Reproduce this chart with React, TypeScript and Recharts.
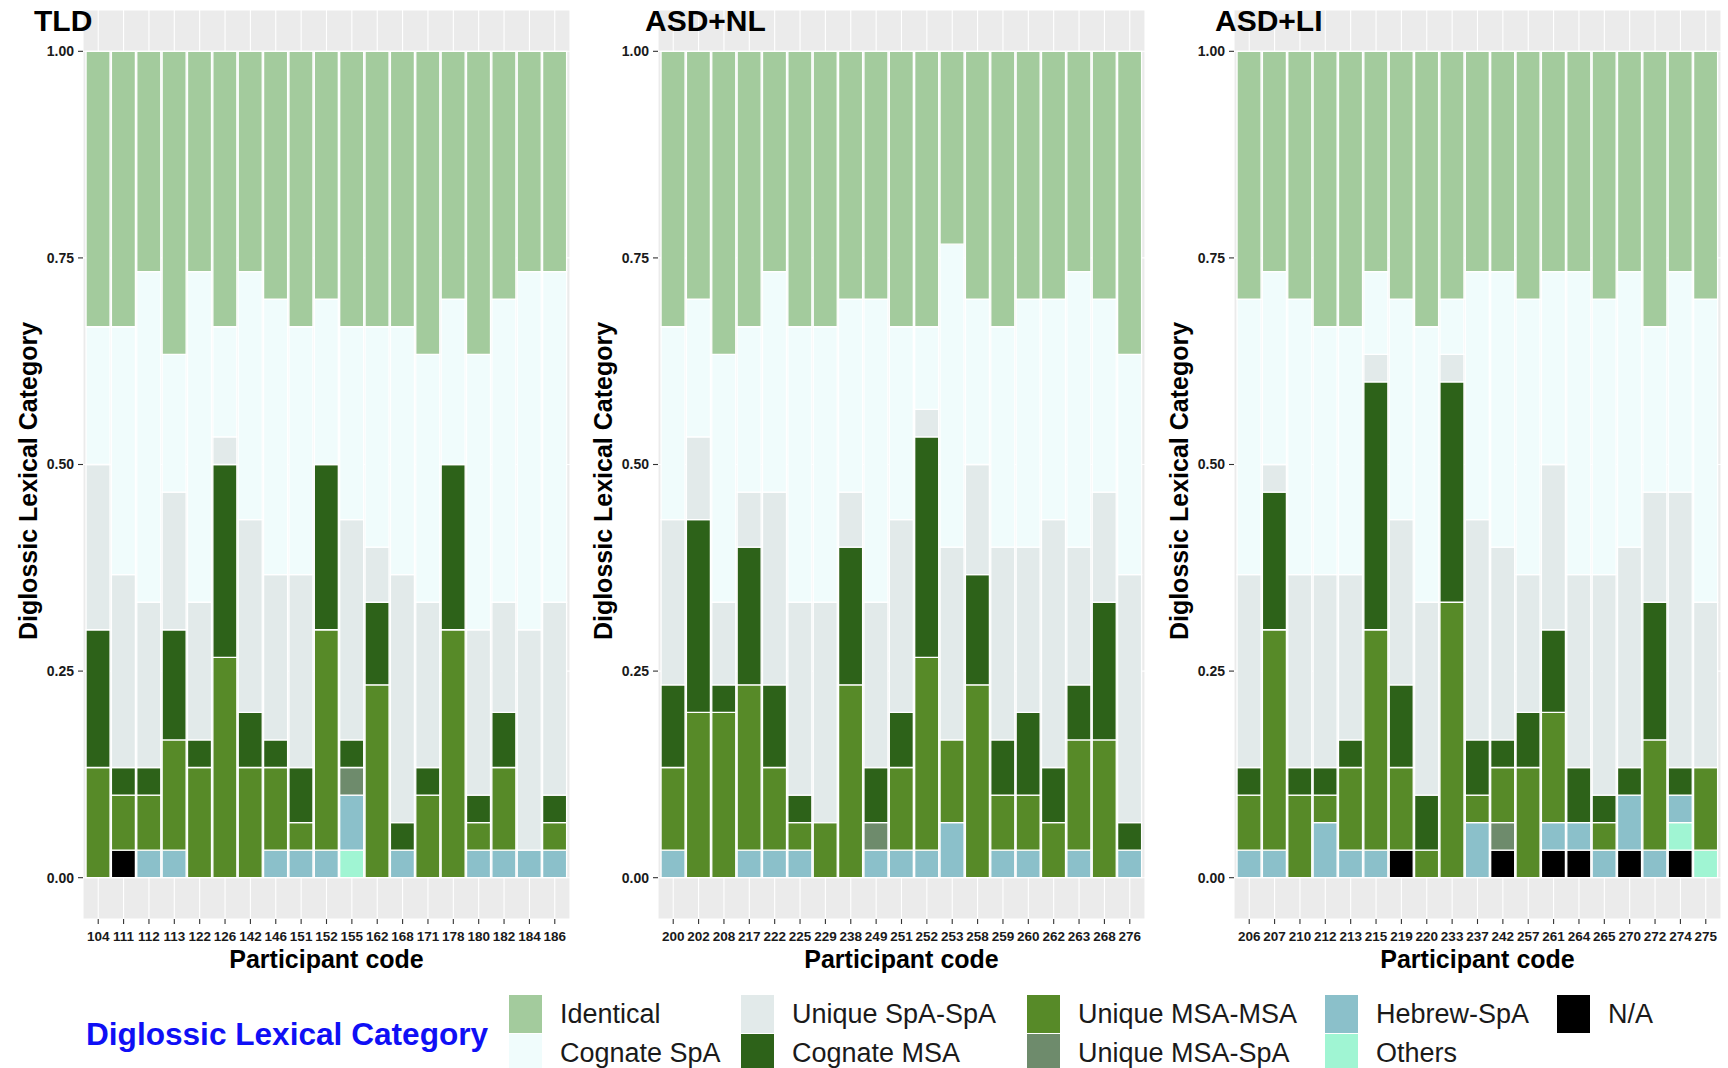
import { BarChart, Bar, XAxis, YAxis, CartesianGrid } from "recharts";

// every participant answered 30 items, values below are item counts
const N_ITEMS = 30;

const TLD_CODES = ["104", "111", "112", "113", "122", "126", "142", "146", "151", "152", "155", "162", "168", "171", "178", "180", "182", "184", "186"];
const TLD = {
  identical:    [10, 10, 8, 11, 8, 10, 8, 9, 10, 9, 10, 10, 10, 11, 9, 11, 9, 8, 8],
  cognateSpa:   [5, 9, 12, 5, 12, 4, 9, 10, 9, 6, 7, 8, 9, 9, 6, 10, 11, 13, 12],
  uniqueSpaSpa: [6, 7, 6, 5, 5, 1, 7, 6, 7, 0, 8, 2, 9, 6, 0, 6, 4, 8, 7],
  cognateMsa:   [5, 1, 1, 4, 1, 7, 2, 1, 2, 6, 1, 3, 1, 1, 6, 1, 2, 0, 1],
  uniqueMsaMsa: [4, 2, 2, 4, 4, 8, 4, 3, 1, 8, 0, 7, 0, 3, 9, 1, 3, 0, 1],
  uniqueMsaSpa: [0, 0, 0, 0, 0, 0, 0, 0, 0, 0, 1, 0, 0, 0, 0, 0, 0, 0, 0],
  hebrewSpa:    [0, 0, 1, 1, 0, 0, 0, 1, 1, 1, 2, 0, 1, 0, 0, 1, 1, 1, 1],
  others:       [0, 0, 0, 0, 0, 0, 0, 0, 0, 0, 1, 0, 0, 0, 0, 0, 0, 0, 0],
  na:           [0, 1, 0, 0, 0, 0, 0, 0, 0, 0, 0, 0, 0, 0, 0, 0, 0, 0, 0],
};

const NL_CODES = ["200", "202", "208", "217", "222", "225", "229", "238", "249", "251", "252", "253", "258", "259", "260", "262", "263", "268", "276"];
const ASD_NL = {
  identical:    [10, 9, 11, 10, 8, 10, 10, 9, 9, 10, 10, 7, 9, 10, 9, 9, 8, 9, 11],
  cognateSpa:   [7, 5, 9, 6, 8, 10, 10, 7, 11, 7, 3, 11, 6, 8, 9, 8, 10, 7, 8],
  uniqueSpaSpa: [6, 3, 3, 2, 7, 7, 8, 2, 6, 7, 1, 7, 4, 7, 6, 9, 5, 4, 9],
  cognateMsa:   [3, 7, 1, 5, 3, 1, 0, 5, 2, 2, 8, 0, 4, 2, 3, 2, 2, 5, 1],
  uniqueMsaMsa: [3, 6, 6, 6, 3, 1, 2, 7, 0, 3, 7, 3, 7, 2, 2, 2, 4, 5, 0],
  uniqueMsaSpa: [0, 0, 0, 0, 0, 0, 0, 0, 1, 0, 0, 0, 0, 0, 0, 0, 0, 0, 0],
  hebrewSpa:    [1, 0, 0, 1, 1, 1, 0, 0, 1, 1, 1, 2, 0, 1, 1, 0, 1, 0, 1],
  others:       [0, 0, 0, 0, 0, 0, 0, 0, 0, 0, 0, 0, 0, 0, 0, 0, 0, 0, 0],
  na:           [0, 0, 0, 0, 0, 0, 0, 0, 0, 0, 0, 0, 0, 0, 0, 0, 0, 0, 0],
};

const LI_CODES = ["206", "207", "210", "212", "213", "215", "219", "220", "233", "237", "242", "257", "261", "264", "265", "270", "272", "274", "275"];
const ASD_LI = {
  identical:    [9, 8, 9, 10, 10, 8, 9, 10, 9, 8, 8, 9, 8, 8, 9, 8, 10, 8, 9],
  cognateSpa:   [10, 7, 10, 9, 9, 3, 8, 10, 2, 9, 10, 10, 7, 11, 10, 10, 6, 8, 11],
  uniqueSpaSpa: [7, 1, 7, 7, 6, 1, 6, 7, 1, 8, 7, 5, 6, 7, 8, 8, 4, 10, 6],
  cognateMsa:   [1, 5, 1, 1, 1, 9, 3, 2, 8, 2, 1, 2, 3, 2, 1, 1, 5, 1, 0],
  uniqueMsaMsa: [2, 8, 3, 1, 3, 8, 3, 1, 10, 1, 2, 4, 4, 0, 1, 0, 4, 0, 3],
  uniqueMsaSpa: [0, 0, 0, 0, 0, 0, 0, 0, 0, 0, 1, 0, 0, 0, 0, 0, 0, 0, 0],
  hebrewSpa:    [1, 1, 0, 2, 1, 1, 0, 0, 0, 2, 0, 0, 1, 1, 1, 2, 1, 1, 0],
  others:       [0, 0, 0, 0, 0, 0, 0, 0, 0, 0, 0, 0, 0, 0, 0, 0, 0, 1, 1],
  na:           [0, 0, 0, 0, 0, 0, 1, 0, 0, 0, 1, 0, 1, 1, 0, 1, 0, 1, 0],
};

const Y_TICKS = [0, 0.25, 0.5, 0.75, 1];

// stacking order, bottom first
const SERIES = [
  { key: "na", name: "N/A", color: "#000000" },
  { key: "others", name: "Others", color: "#A0F5D3" },
  { key: "hebrewSpa", name: "Hebrew-SpA", color: "#8BC0CA" },
  { key: "uniqueMsaSpa", name: "Unique MSA-SpA", color: "#6E8B6C" },
  { key: "uniqueMsaMsa", name: "Unique MSA-MSA", color: "#578A28" },
  { key: "cognateMsa", name: "Cognate MSA", color: "#2D6219" },
  { key: "uniqueSpaSpa", name: "Unique SpA-SpA", color: "#E2EAEA" },
  { key: "cognateSpa", name: "Cognate SpA", color: "#F0FCFC" },
  { key: "identical", name: "Identical", color: "#A3CB9D" },
];

const FONT = '"Liberation Sans", Arial, Helvetica, sans-serif';
const PANEL_W = 487;
const PANEL_H = 909;
const PANEL_TOP = 10;
const Y_AXIS_W = 60;
const X_AXIS_H = 40;
const X_PAD = (0.1 * PANEL_W) / 19.2;

const seriesColor = (key: string) => SERIES.find((s) => s.key === key)!.color;
const seriesName = (key: string) => SERIES.find((s) => s.key === key)!.name;

function buildRows(codes: string[], group: Record<string, number[]>) {
  return codes.map((code, i) => {
    const row: Record<string, any> = { code };
    SERIES.forEach((s) => {
      row[s.key] = group[s.key][i] / N_ITEMS;
    });
    return row;
  });
}

function Panel({ title, codes, group, left, titleX }: { title: string; codes: string[]; group: Record<string, number[]>; left: number; titleX: number }) {
  const data = buildRows(codes, group);
  return (
    <>
      <div style={{ position: "absolute", left: left - Y_AXIS_W, top: 0 }}>
        <BarChart
          width={Y_AXIS_W + PANEL_W}
          height={PANEL_TOP + PANEL_H + X_AXIS_H}
          data={data}
          margin={{ top: PANEL_TOP, right: 0, bottom: 0, left: 0 }}
          barCategoryGap="2%"
        >
          <CartesianGrid fill="#EBEBEB" stroke="#FFFFFF" strokeWidth={1.1} />
          <XAxis
            dataKey="code"
            interval={0}
            padding={{ left: X_PAD, right: X_PAD }}
            axisLine={false}
            tickLine={{ stroke: "#333333", strokeWidth: 1.1 }}
            tickSize={5}
            tickMargin={7}
            height={X_AXIS_H}
            tick={{ fill: "#1A1A1A", fontSize: 13.5, fontWeight: 700, fontFamily: FONT }}
          />
          <YAxis
            type="number"
            domain={[-0.05, 1.05]}
            ticks={Y_TICKS}
            tickFormatter={(v: number) => v.toFixed(2)}
            width={Y_AXIS_W}
            axisLine={false}
            tickLine={{ stroke: "#333333", strokeWidth: 1.1 }}
            tickSize={5}
            tickMargin={4}
            tick={{ fill: "#1A1A1A", fontSize: 14, fontWeight: 700, fontFamily: FONT }}
          />
          {SERIES.map((s) => (
            <Bar
              key={s.key}
              dataKey={s.key}
              name={s.name}
              stackId="share"
              fill={s.color}
              stroke="#FFFFFF"
              strokeWidth={1.3}
              isAnimationActive={false}
            />
          ))}
        </BarChart>
      </div>
      <div style={{ position: "absolute", left: titleX, top: 6, fontSize: 30, fontWeight: 700, lineHeight: 1, color: "#000" }}>
        {title}
      </div>
      <div
        style={{
          position: "absolute",
          left: left - 55 - 200,
          top: 481 - 15,
          width: 400,
          height: 30,
          lineHeight: "30px",
          textAlign: "center",
          fontSize: 25,
          fontWeight: 700,
          transform: "rotate(-90deg)",
          color: "#000",
        }}
      >
        Diglossic Lexical Category
      </div>
      <div
        style={{
          position: "absolute",
          left: left,
          top: 959 - 15,
          width: PANEL_W,
          height: 30,
          lineHeight: "30px",
          textAlign: "center",
          fontSize: 25,
          fontWeight: 700,
          color: "#000",
        }}
      >
        Participant code
      </div>
    </>
  );
}

const LEGEND_COLUMNS = [
  { x: 509, keys: ["identical", "cognateSpa"] },
  { x: 741, keys: ["uniqueSpaSpa", "cognateMsa"] },
  { x: 1027, keys: ["uniqueMsaMsa", "uniqueMsaSpa"] },
  { x: 1325, keys: ["hebrewSpa", "others"] },
  { x: 1557, keys: ["na"] },
];
const LEGEND_ROWS = [995, 1034];

function Legend() {
  return (
    <>
      <div
        style={{
          position: "absolute",
          left: 86,
          top: 1034 - 20,
          height: 40,
          lineHeight: "40px",
          fontSize: 31.6,
          fontWeight: 700,
          color: "#0F0FF5",
          whiteSpace: "nowrap",
        }}
      >
        Diglossic Lexical Category
      </div>
      {LEGEND_COLUMNS.map((col) =>
        col.keys.map((k, r) => (
          <div key={k}>
            <div
              style={{
                position: "absolute",
                left: col.x,
                top: LEGEND_ROWS[r],
                width: 33,
                height: 38,
                background: seriesColor(k),
              }}
            />
            <div
              style={{
                position: "absolute",
                left: col.x + 51,
                top: LEGEND_ROWS[r],
                height: 38,
                lineHeight: "38px",
                fontSize: 27,
                color: "#1A1A1A",
                whiteSpace: "nowrap",
              }}
            >
              {seriesName(k)}
            </div>
          </div>
        ))
      )}
    </>
  );
}

export default function App() {
  return (
    <div
      style={{
        position: "absolute",
        left: 0,
        top: 0,
        width: 1728,
        height: 1068,
        overflow: "hidden",
        background: "#FFFFFF",
        fontFamily: FONT,
      }}
    >
      <Panel title="TLD" codes={TLD_CODES} group={TLD} left={83} titleX={34} />
      <Panel title="ASD+NL" codes={NL_CODES} group={ASD_NL} left={658} titleX={645} />
      <Panel title="ASD+LI" codes={LI_CODES} group={ASD_LI} left={1234} titleX={1215} />
      <Legend />
    </div>
  );
}
